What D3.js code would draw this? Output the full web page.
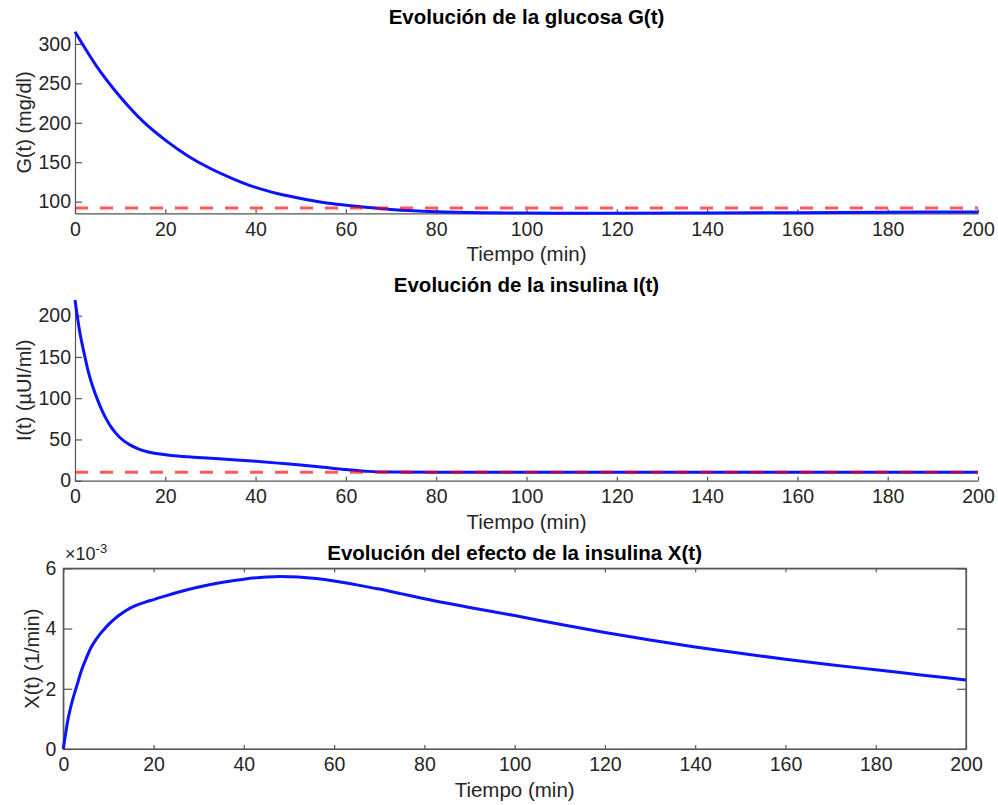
<!DOCTYPE html>
<html>
<head>
<meta charset="utf-8">
<script src="https://cdn.jsdelivr.net/npm/d3@7"></script>
<style>
  body { margin: 0; background: #fff; }
  svg { display: block; }
  text { font-family: "Liberation Sans", Arial, Helvetica, sans-serif; }
</style>
</head>
<body>
<div id="chart"></div>
<script>
// Datos
var xTicks = [0, 20, 40, 60, 80, 100, 120, 140, 160, 180, 200];

// Glucosa G(t) (mg/dl)
var tG = [0, 5, 10, 15, 20, 25, 30, 35, 40, 45, 50, 55, 60, 65, 70, 75, 80, 90, 100, 110, 120, 140, 160, 180, 200];
var glucose = [315.5, 270, 233, 202, 178, 158, 142, 129, 118, 110, 104, 99, 95.5, 92.5, 90, 88.3, 87.2, 86, 85.5, 85.3, 85.2, 85.5, 86, 86.5, 87];
var Gb = 91.8;
var gTicks = [100, 150, 200, 250, 300];

// Insulina I(t) (µUI/ml)
var tI = [0, 1, 2, 3, 4, 5, 6, 7, 8, 9, 10, 12, 14, 16, 18, 20, 25, 30, 35, 40, 45, 50, 55, 60, 65, 70, 80, 100, 150, 200];
var insulin = [219, 182, 155, 131, 113, 98, 85, 74, 65, 58, 52, 44, 38.5, 35, 33, 31.5, 29, 27.3, 25.5, 23.5, 21.3, 19, 16.3, 13.5, 11.3, 10.5, 10.2, 10.1, 10.1, 10.1];
var Ib = 10.2;
var iTicks = [0, 50, 100, 150, 200];

// Efecto de la insulina X(t) (1/min), en unidades de 1e-3
var tX = [0, 1, 2, 3, 4, 5, 6, 7, 8, 9, 10, 12, 13, 14, 16, 18, 20, 25, 30, 35, 40, 45, 48, 52, 56, 60, 65, 70, 75, 80, 90, 100, 110, 120, 130, 140, 150, 160, 170, 180, 190, 200];
var xEffect = [0, 0.95, 1.6, 2.1, 2.6, 2.98, 3.33, 3.58, 3.79, 3.97, 4.13, 4.40, 4.51, 4.61, 4.76, 4.87, 4.96, 5.19, 5.38, 5.53, 5.64, 5.71, 5.73, 5.71, 5.66, 5.58, 5.45, 5.31, 5.15, 4.99, 4.70, 4.43, 4.14, 3.87, 3.62, 3.39, 3.18, 2.98, 2.80, 2.63, 2.46, 2.29];
var xEffTicks = [0, 2, 4, 6];

var W = 998, H = 805;
var svg = d3.select("#chart").append("svg")
  .attr("width", W)
  .attr("height", H);

var axisColor = "#555";
var textColor = "#262626";
var fs = "19.5px";

// Dibuja un panel (estilo MATLAB)
function drawPanel(p) {
  var x = d3.scaleLinear().domain([0, 200]).range([p.left, p.right]);
  var y = d3.scaleLinear().domain(p.yDomain).range([p.bottom, p.top]);

  var g = svg.append("g");

  // caja completa para el tercer panel
  if (p.box) {
    g.append("rect")
      .attr("x", p.left).attr("y", p.top)
      .attr("width", p.right - p.left).attr("height", p.bottom - p.top)
      .attr("fill", "none").attr("stroke", axisColor).attr("stroke-width", 1.2);
    g.append("g")
      .attr("transform", "translate(0," + p.top + ")")
      .call(d3.axisTop(x).tickValues(xTicks).tickSize(-4).tickSizeOuter(0).tickFormat(""))
      .call(styleAxis);
    g.append("g")
      .attr("transform", "translate(" + p.right + ",0)")
      .call(d3.axisRight(y).tickValues(p.yTicks).tickSize(-9).tickSizeOuter(0).tickFormat(""))
      .call(styleAxis);
  }

  g.append("g")
    .attr("transform", "translate(0," + p.bottom + ")")
    .call(d3.axisBottom(x).tickValues(xTicks).tickSize(-4).tickSizeOuter(0).tickPadding(8.5))
    .call(styleAxis);

  g.append("g")
    .attr("transform", "translate(" + p.left + ",0)")
    .call(d3.axisLeft(y).tickValues(p.yTicks).tickSize(-p.yTickLen).tickSizeOuter(0).tickPadding(p.yPad).tickFormat(p.fmt))
    .call(styleAxis);

  var line = d3.line()
    .x(function(d) { return x(d[0]); })
    .y(function(d) { return y(d[1]); })
    .curve(d3.curveMonotoneX);

  g.append("path")
    .datum(d3.zip(p.t, p.v))
    .attr("fill", "none")
    .attr("stroke", "#0a14ff")
    .attr("stroke-width", 3)
    .attr("d", line);

  if (p.ref !== undefined) {
    g.append("path")
      .datum([[0, p.ref], [200, p.ref]])
      .attr("fill", "none")
      .attr("stroke", "#ff0000")
      .attr("stroke-opacity", 0.65)
      .attr("stroke-width", 3)
      .attr("stroke-dasharray", "13,12")
      .attr("d", line);
  }

  // titulo
  g.append("text")
    .attr("x", (p.left + p.right) / 2)
    .attr("y", p.top - 8)
    .attr("text-anchor", "middle")
    .style("font-size", "20.5px")
    .style("font-weight", "bold")
    .attr("fill", "#000")
    .text(p.title);

  // etiqueta eje x
  g.append("text")
    .attr("x", (p.left + p.right) / 2)
    .attr("y", p.bottom + 48)
    .attr("text-anchor", "middle")
    .style("font-size", "20.5px")
    .attr("fill", textColor)
    .text("Tiempo (min)");

  // etiqueta eje y
  g.append("text")
    .attr("transform", "translate(" + p.yLabelX + "," + (p.top + p.bottom) / 2 + ") rotate(-90)")
    .attr("text-anchor", "middle")
    .style("font-size", "20px")
    .attr("fill", textColor)
    .text(p.yLabel);

  return g;
}

function styleAxis(a) {
  a.select(".domain").attr("stroke", axisColor).attr("stroke-width", 1.2);
  a.selectAll(".tick line").attr("stroke", axisColor).attr("stroke-width", 1.2);
  a.selectAll(".tick text")
    .attr("fill", textColor)
    .style("font-size", fs)
    .style("font-family", "'Liberation Sans', Arial, Helvetica, sans-serif");
}

drawPanel({
  left: 75, right: 978, top: 31.7, bottom: 213.3,
  yDomain: [d3.min(glucose), d3.max(glucose)],
  yTicks: gTicks, yTickLen: 7, yPad: 4, fmt: d3.format("d"),
  t: tG, v: glucose, ref: Gb,
  title: "Evolución de la glucosa G(t)",
  yLabel: "G(t) (mg/dl)", yLabelX: 31
});

drawPanel({
  left: 75, right: 978, top: 300, bottom: 480.7,
  yDomain: [0, d3.max(insulin)],
  yTicks: iTicks, yTickLen: 7, yPad: 4, fmt: d3.format("d"),
  t: tI, v: insulin, ref: Ib,
  title: "Evolución de la insulina I(t)",
  yLabel: "I(t) (µUI/ml)", yLabelX: 31
});

var bottomPanel = drawPanel({
  left: 63.3, right: 966, top: 568.3, bottom: 749,
  yDomain: [0, 6],
  yTicks: xEffTicks, yTickLen: 9, yPad: 7, fmt: d3.format("d"),
  t: tX, v: xEffect, box: true,
  title: "Evolución del efecto de la insulina X(t)",
  yLabel: "X(t) (1/min)", yLabelX: 39
});

// factor de escala x10^-3
var expo = bottomPanel.append("text")
  .attr("x", 65)
  .attr("y", 560)
  .style("font-size", "18px")
  .attr("fill", textColor);
expo.append("tspan").text("×10");
expo.append("tspan").attr("dy", -7).style("font-size", "13px").text("-3");
</script>
</body>
</html>
